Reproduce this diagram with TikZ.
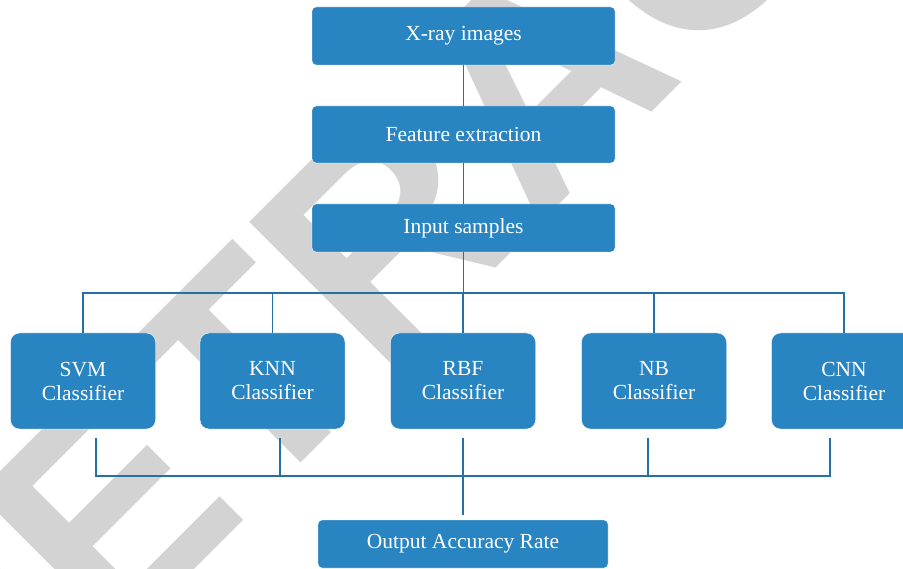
\documentclass[tikz,border=0pt]{standalone}
\usepackage{fontspec}
\setmainfont{Liberation Serif}
\newfontfamily\stampfont{Liberation Sans}
\usepackage{tikz}
\definecolor{BoxBlue}{RGB}{41, 132, 194}
\definecolor{WireBlue}{RGB}{38, 112, 170}
\definecolor{StampGray}{RGB}{211, 211, 211}

\begin{document}
\begin{tikzpicture}[x=1pt, y=-1pt]
      \tikzstyle{topbox}=[draw=white, thin, fill=BoxBlue, text=white, rounded corners=4pt, minimum width=303pt, inner sep=0pt, font=\fontsize{21.5}{24}\selectfont];
      \tikzstyle{clfbox}=[topbox, rounded corners=9pt, minimum width=145pt, minimum height=96pt, align=center];
      \tikzstyle{wire}=[WireBlue, line width=1.2pt];
      \tikzstyle{stamp}=[text=StampGray, inner sep=0pt, rotate=45, font=\stampfont\bfseries\fontsize{300}{300}\selectfont];

      \useasboundingbox (0,0) rectangle (903,569);
      \begin{scope}
        \clip (0,0) rectangle (903,569);
        \node[stamp] (stamp) at (538,80) {RETRACTED};
      \end{scope}

      \node[topbox, minimum height=58pt] (xray) at (463.5,36) {X-ray images};
      \node[topbox, minimum height=57pt] (feat) at (463.5,134.5) {Feature extraction};
      \node[topbox, minimum height=48pt] (input) at (463.5,228) {Input samples};

      \node[clfbox] (svm) at (83,381) {SVM\\Classifier};
      \node[clfbox] (knn) at (272.5,381) {KNN\\Classifier};
      \node[clfbox] (rbf) at (463,381) {RBF\\Classifier};
      \node[clfbox] (nb) at (654,381) {NB\\Classifier};
      \node[clfbox] (cnn) at (844,381) {CNN\\Classifier};

      \node[topbox, minimum width=290pt, minimum height=48pt] (output) at (463,544) {Output Accuracy Rate};

      \coordinate (topbus) at (463,293);
      \coordinate (lowbus) at (463,476);
      \coordinate (svmout) at ([xshift=13pt, yshift=-9pt]svm.south);
      \coordinate (knnout) at ([xshift=7.5pt, yshift=-9pt]knn.south);
      \coordinate (rbfout) at ([yshift=-9pt]rbf.south);
      \coordinate (nbout) at ([xshift=-6pt, yshift=-9pt]nb.south);
      \coordinate (cnnout) at ([xshift=-14pt, yshift=-9pt]cnn.south);

      \draw[wire] (xray.south -| input) -- (feat.north -| input);
      \draw[wire] (feat.south -| input) -- (input.north);
      \draw[wire] (input.south) -- (input.south |- topbus);

      % fan out
      \draw[wire] (svm.north) -- (svm.north |- topbus) -- (cnn.north |- topbus) -- (cnn.north);
      \foreach \c in {knn, rbf, nb}
        \draw[wire] (\c.north) -- (\c.north |- topbus);

      % fan in
      \draw[wire] (svmout) -- (svmout |- lowbus) -- (cnnout |- lowbus) -- (cnnout);
      \foreach \c in {knn, nb}
        \draw[wire] (\c out) -- (\c out |- lowbus);
      \draw[wire] (rbfout) -- ([yshift=5pt]output.north);
\end{tikzpicture}
\end{document}
